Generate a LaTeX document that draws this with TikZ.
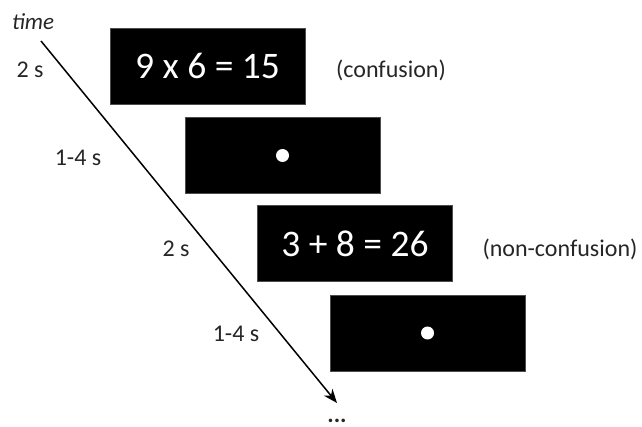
\documentclass[tikz,border=0pt]{standalone}
\usepackage{fontspec}
\setmainfont{Carlito}
\usetikzlibrary{arrows.meta}
\begin{document}
\begin{tikzpicture}[x=1pt,y=-1pt,
  screen/.style={fill=black,draw=black!70,line width=0.6pt,minimum width=195pt,minimum height=76pt,inner sep=0pt,text=white,font=\fontsize{37.5}{40}\selectfont},
  lbl/.style={font=\fontsize{24}{26}\selectfont,inner sep=0pt,text=black!85},
  fix/.style={circle,fill=white,minimum size=13pt,inner sep=0pt}]
\useasboundingbox (0,0) rectangle (642,427);
\node[screen] (s1) at (207.5,66) {9 x 6 = 15};
\node[screen] (s2) at (282.5,155.5) {};
\node[screen] (s3) at (355,243.5) {3 + 8 = 26};
\node[screen] (s4) at (427.5,333) {};
\node[fix] (d2) at (s2.center) {};
\node[fix] (d4) at (s4.center) {};
\node[lbl,font=\fontsize{23}{26}\selectfont\itshape] (time) at (33,22) {time};
\node[lbl] (t1) at (30,70) {2 s};
\node[lbl] (t2) at (78,158) {1-4 s};
\node[lbl] (t3) at (176,249) {2 s};
\node[lbl] (t4) at (236,334) {1-4 s};
\node[lbl] (c1) at (391,70) {(confusion)};
\node[lbl] (c2) at (560,249) {(non-confusion)};
\coordinate (a0) at (41,41);
\coordinate (a1) at (337,403);
\draw[line width=1.5pt,-{Stealth[length=14pt,width=11pt]}] (a0) -- (a1);
\node[lbl,anchor=base,text depth=0pt,font=\fontsize{24}{26}\selectfont\bfseries] (dots) at (337,422) {...};
\end{tikzpicture}
\end{document}
